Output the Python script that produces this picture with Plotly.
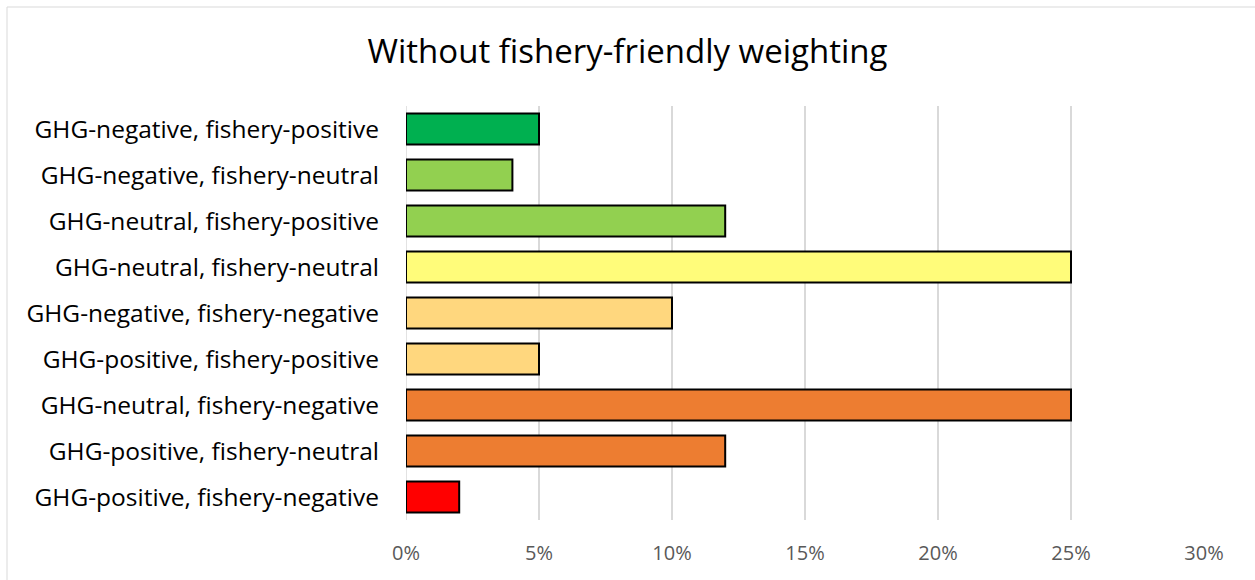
import plotly.graph_objects as go

categories = [
    "GHG-negative, fishery-positive",
    "GHG-negative, fishery-neutral",
    "GHG-neutral, fishery-positive",
    "GHG-neutral, fishery-neutral",
    "GHG-negative, fishery-negative",
    "GHG-positive, fishery-positive",
    "GHG-neutral, fishery-negative",
    "GHG-positive, fishery-neutral",
    "GHG-positive, fishery-negative",
]
values = [0.05, 0.04, 0.12, 0.25, 0.10, 0.05, 0.25, 0.12, 0.02]
colors = ["#00B050", "#92D050", "#92D050", "#FFFC7A", "#FFD77E", "#FFD77E",
          "#ED7D31", "#ED7D31", "#FF0000"]
tick_vals = [0, 0.05, 0.10, 0.15, 0.20, 0.25, 0.30]
tick_text = ["0%", "5%", "10%", "15%", "20%", "25%", "30%"]

fig = go.Figure(go.Bar(
    x=values, y=categories, orientation="h",
    marker=dict(color=colors, line=dict(color="#000000", width=2)),
    width=0.67,
))

fig.update_layout(
    width=1255, height=580,
    margin=dict(l=406, r=51, t=106, b=60),
    paper_bgcolor="white", plot_bgcolor="white",
    title=dict(text="Without fishery-friendly weighting", x=0.5, xanchor="center",
               y=1 - 51 / 580, yanchor="middle",
               font=dict(family="Open Sans", size=33, color="#000000")),
    font=dict(family="Open Sans"),
    showlegend=False,
    shapes=[dict(type="rect", xref="paper", yref="paper",
                 x0=-399 / 798, x1=1247 / 798 - 0.001, y0=-0.2, y1=1 + 99 / 414,
                 line=dict(color="#D9D9D9", width=1), layer="below")],
)
fig.update_xaxes(range=[0, 0.30], tickvals=tick_vals, ticktext=tick_text,
                 showgrid=True, gridcolor="#D9D9D9", gridwidth=1.5,
                 zeroline=False, showline=False, ticks="",
                 tickfont=dict(size=20, color="#595959"), ticklabelstandoff=19)
fig.update_yaxes(autorange="reversed", showgrid=False, zeroline=False,
                 showline=False, ticks="", ticklabelstandoff=26,
                 tickfont=dict(size=24.5, color="#000000"))
fig.add_vline(x=0, line=dict(color="#D9D9D9", width=1.5), layer="below")

fig.write_html("out.html")
